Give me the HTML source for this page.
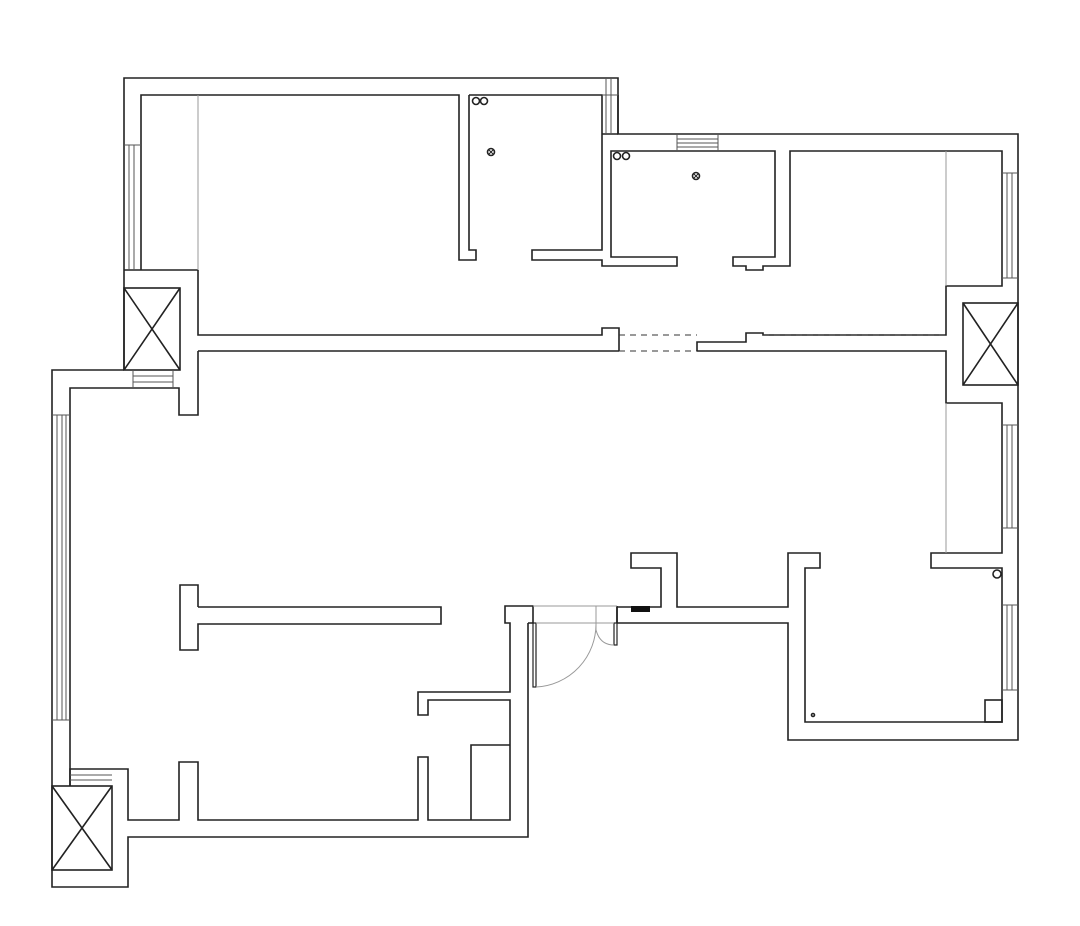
<!DOCTYPE html>
<html><head><style>html,body{margin:0;padding:0;background:#fff}svg{display:block}</style></head>
<body>
<svg width="1080" height="926" viewBox="0 0 1080 926" xmlns="http://www.w3.org/2000/svg">
<g fill="none" stroke="#222" stroke-width="1.6" stroke-linejoin="miter">
<path d="M124,370 V78 H618 V134 H1018 V740 H788 V623 H617"/>
<path d="M528,623 V837 H128 V887 H52 V370 H124"/>
<path d="M124,270 H198 M141,270 V95 H459 V260 H476 V250 H469 V95"/>
<path d="M469,95 H602 V250 H532 V260 H602 V266 H677 V257 H611 V151 H775 V257 H733 V266 H746 V270 H763 V266 H790 V151 H1002 V286 H946 V335 H763 V333 H746 V342 H697 V351"/>
<path d="M618,134 V95 M602,134 H618"/>
<path d="M198,270 V335 H602 V328 H619 V351"/>
<path d="M697,351 H946 V403 H1002 V553 H931 V568 H1002 V722 H805 V568 H820 V553 H788 V607 H677 V553 H631 V568 H661 V607 H617 V623"/>
<path d="M617,606 V623"/>
<path d="M198,351 H619 M198,351 V415 H179 V388 H70 V786"/>
<path d="M70,786 V769 H128 V820 H179 V762 H198 V820 H418 V757 H428 V820 H510 V700 H428 V715 H418 V692 H510 V623 H505 V606 H533 V623 H528"/>
<path d="M471,820 V745 H510"/>
<path d="M198,607 V585 H180 V650 H198 V624 H441 V607 H198"/>
<rect x="124" y="288" width="56" height="82"/><path d="M124,288 L180,370 M180,288 L124,370"/>
<rect x="963" y="303" width="55" height="82"/><path d="M963,303 L1018,385 M1018,303 L963,385"/>
<rect x="52" y="786" width="60" height="84"/><path d="M52,786 L112,870 M112,786 L52,870"/>
<rect x="985" y="700" width="17" height="22"/>
<circle cx="476" cy="101" r="3.5"/><circle cx="484" cy="101" r="3.5"/>
<circle cx="617" cy="156" r="3.5"/><circle cx="626" cy="156" r="3.5"/>
<circle cx="491" cy="152" r="3.5"/><path d="M488.5,149.5 l5,5 M493.5,149.5 l-5,5" stroke-width="1"/>
<circle cx="696" cy="176" r="3.5"/><path d="M693.5,173.5 l5,5 M698.5,173.5 l-5,5" stroke-width="1"/>
<circle cx="997" cy="574" r="4"/><circle cx="813" cy="715" r="1.5"/>
<rect x="533" y="623" width="3" height="64" stroke-width="1.2"/>
<rect x="614" y="623" width="3" height="22" stroke-width="1.2"/>
</g>
<rect x="631" y="606" width="19" height="6" fill="#111"/>
<g fill="none" stroke="#555" stroke-width="1">
<path d="M124,145 H141 M129,145 V270 M134,145 V270"/>
<path d="M602,95 H618 M606,78 V134 M611,78 V134"/>
<path d="M677,134 V151 M718,134 V151 M677,139 H718 M677,143 H718 M677,147 H718"/>
<path d="M1002,173 H1018 M1002,278 H1018 M1007,173 V278 M1012,173 V278"/>
<path d="M1002,425 H1018 M1002,528 H1018 M1007,425 V528 M1012,425 V528"/>
<path d="M1002,605 H1018 M1002,690 H1018 M1007,605 V690 M1012,605 V690"/>
<path d="M52,415 H70 M52,720 H70 M57,415 V720 M62,415 V720 M66,415 V720"/>
<path d="M133,370 V388 M173,370 V388 M133,376 H173 M133,382 H173"/>
<path d="M70,775 H112 M70,780 H112"/>
</g>
<g fill="none" stroke="#999" stroke-width="1">
<path d="M198,95 V270"/>
<path d="M946,151 V286 M946,403 V553"/>
<path d="M533,606 H617 M536,623 H614 M596,606 V630"/>
<path d="M536,687 A63,63 0 0 0 596,623"/>
<path d="M596,630 Q600,645 614,645"/>
</g>
<g fill="none" stroke="#333" stroke-width="1" stroke-dasharray="6,5">
<path d="M619,335 H697 M619,351 H697 M763,335 H946"/>
</g>
</svg>
</body></html>
